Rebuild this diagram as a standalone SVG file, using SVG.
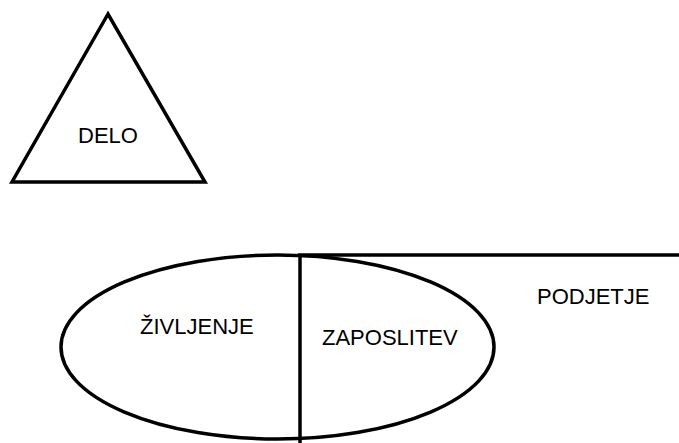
<svg xmlns="http://www.w3.org/2000/svg" width="679" height="443" viewBox="0 0 679 443">
<style>
.s{fill:none;stroke:#000;stroke-width:3.5}
.t{font-family:"Liberation Sans",Arial,sans-serif;font-size:22px;fill:#000}
</style>
<rect width="679" height="443" fill="#fff"/>
<g id="delo">
<polygon class="s" points="108,14 12,182 205,182"/>
<text class="t" x="78" y="143">DELO</text>
</g>
<g id="zivljenje">
<ellipse class="s" cx="277.5" cy="347" rx="216.5" ry="92"/>
<text class="t" x="140" y="334">ŽIVLJENJE</text>
</g>
<g id="zaposlitev">
<text class="t" x="322" y="345">ZAPOSLITEV</text>
</g>
<g id="podjetje">
<text class="t" x="537" y="304">PODJETJE</text>
</g>
<g id="connectors">
<line class="s" x1="300" y1="254" x2="300" y2="443"/>
<line class="s" x1="298" y1="255" x2="679" y2="255"/>
</g>
</svg>
